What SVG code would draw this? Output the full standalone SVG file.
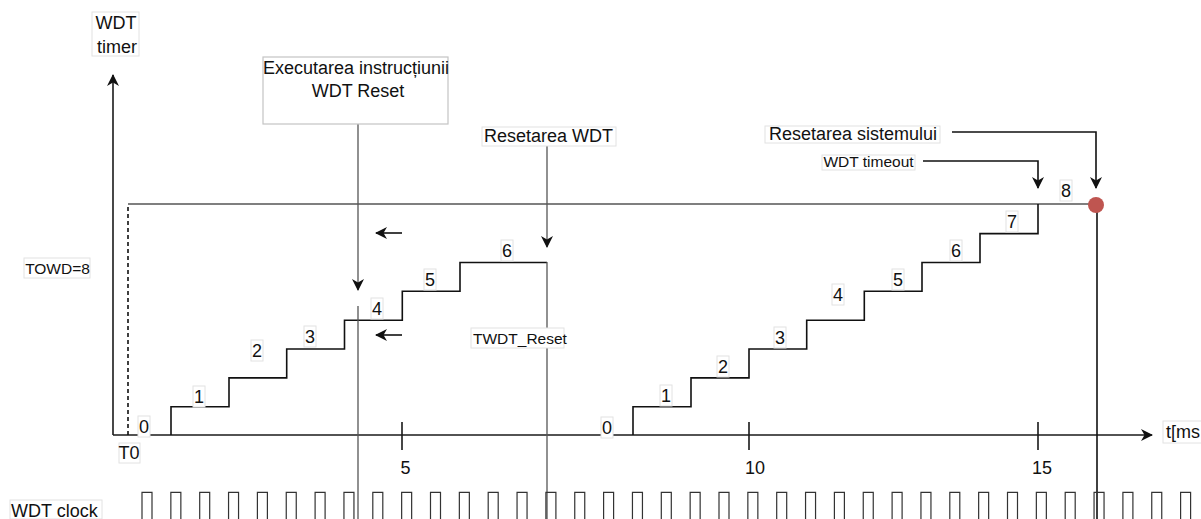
<svg xmlns="http://www.w3.org/2000/svg" width="1201" height="519" viewBox="0 0 1201 519">
<style>
text{font-family:"Liberation Sans",Arial,sans-serif;fill:#111;font-size:18px}
.sm{font-size:15.5px}
.mid{text-anchor:middle}
.lb{fill:#fff;stroke:#e2e2e2;stroke-width:1}
.box{fill:#fff;stroke:#c4c4c4;stroke-width:1.2}
.ax{fill:none;stroke:#1a1a1a;stroke-width:1.6}
.stair{fill:none;stroke:#111;stroke-width:1.6}
.gray{fill:none;stroke:#555;stroke-width:1.3}
.blk{fill:none;stroke:#111;stroke-width:1.6}
.clk{fill:none;stroke:#333;stroke-width:1.2}
</style>
<defs>
<marker id="ah" viewBox="0 0 12 12" markerWidth="12" markerHeight="12" refX="11" refY="6" orient="auto" markerUnits="userSpaceOnUse">
<path d="M0,0 L12,6 L0,12 L3.5,6 Z" fill="#111"/>
</marker>
</defs>
<rect width="1201" height="519" fill="#fff"/>

<g id="connectors">
<path class="ax" d="M113,435 V75" marker-end="url(#ah)"/>
<path class="ax" d="M113,435 H1152" marker-end="url(#ah)"/>
<path d="M128,435 V204" fill="none" stroke="#111" stroke-width="1.6" stroke-dasharray="4,3"/>
<path class="gray" d="M128,204 H1090"/>
<path class="stair" d="M171,435 V406.7 H229 V377.9 H286.7 V349 H344.5 V320.2 H402.3 V291.3 H460 V262.5 H547"/>
<path class="stair" d="M633,435 V406.7 H691 V377.9 H749 V349 H806.7 V320.2 H864.3 V291.3 H922 V262.5 H980 V233.6 H1038 V204"/>
<path class="ax" d="M402,422 V450 M749,422 V450 M1038,422 V450"/>
<path class="gray" d="M358,124 V290" marker-end="url(#ah)"/>
<path class="gray" d="M358,306 V519"/>
<path class="gray" d="M547,146 V247" marker-end="url(#ah)"/>
<path class="gray" d="M547,262 V519"/>
<path class="blk" d="M402,233 H376" marker-end="url(#ah)"/>
<path class="blk" d="M402,335 H376" marker-end="url(#ah)"/>
<path class="blk" d="M952,132 H1096 V188" marker-end="url(#ah)"/>
<path class="blk" d="M923,161 H1038 V188" marker-end="url(#ah)"/>
<path class="blk" d="M1097,205 V519"/>
</g>

<g id="clock">
<path class="clk" d="M142,520V492.3H152V520 M170.85,520V492.3H180.85V520 M199.7,520V492.3H209.7V520 M228.55,520V492.3H238.55V520 M257.4,520V492.3H267.4V520 M286.25,520V492.3H296.25V520 M315.1,520V492.3H325.1V520 M343.95,520V492.3H353.95V520 M372.8,520V492.3H382.8V520 M401.65,520V492.3H411.65V520 M430.5,520V492.3H440.5V520 M459.35,520V492.3H469.35V520 M488.2,520V492.3H498.2V520 M517.05,520V492.3H527.05V520 M545.9,520V492.3H555.9V520 M574.75,520V492.3H584.75V520 M603.6,520V492.3H613.6V520 M632.45,520V492.3H642.45V520 M661.3,520V492.3H671.3V520 M690.15,520V492.3H700.15V520 M719,520V492.3H729V520 M747.85,520V492.3H757.85V520 M776.7,520V492.3H786.7V520 M805.55,520V492.3H815.55V520 M834.4,520V492.3H844.4V520 M863.25,520V492.3H873.25V520 M892.1,520V492.3H902.1V520 M920.95,520V492.3H930.95V520 M949.8,520V492.3H959.8V520 M978.65,520V492.3H988.65V520 M1007.5,520V492.3H1017.5V520 M1036.35,520V492.3H1046.35V520 M1065.2,520V492.3H1075.2V520 M1094.05,520V492.3H1104.05V520 M1122.9,520V492.3H1132.9V520 M1151.75,520V492.3H1161.75V520 M1180.6,520V492.3H1190.6V520"/>
</g>

<g id="reset-dot"><circle cx="1096" cy="205" r="8" fill="#bf5550"/></g>

<g id="label-wdt-timer"><rect class="lb" x="92" y="12" width="47" height="44"/><text class="mid" x="116" y="29.3">WDT</text><text class="mid" x="117" y="53">timer</text></g>
<g id="label-executarea"><rect class="box" x="263" y="57" width="185" height="67"/><text class="mid" x="356" y="74">Executarea instrucțiunii</text><text class="mid" x="358" y="97">WDT Reset</text></g>
<g id="label-resetarea-wdt"><rect class="lb" x="482" y="127" width="134" height="19"/><text class="mid" x="548.5" y="142">Resetarea WDT</text></g>
<g id="label-resetarea-sistemului"><rect class="lb" x="765" y="126" width="175" height="17"/><text class="mid" x="853" y="140">Resetarea sistemului</text></g>
<g id="label-wdt-timeout"><rect class="lb" x="822" y="155" width="93" height="15"/><text class="sm mid" x="868.5" y="167">WDT timeout</text></g>
<g id="label-towd"><rect class="lb" x="24" y="258" width="66" height="20"/><text class="sm mid" x="57.5" y="274">TOWD=8</text></g>
<g id="label-twdt-reset"><rect class="lb" x="471" y="328" width="93" height="20"/><text class="sm" x="473" y="344">TWDT_Reset</text></g>
<g id="label-t0"><rect class="lb" x="119" y="443" width="21" height="20"/><text class="mid" x="129" y="459">T0</text></g>
<g id="label-tms"><rect class="lb" x="1163" y="421" width="40" height="22"/><text x="1166" y="438">t[ms</text></g>
<g id="label-wdt-clock"><rect class="lb" x="10" y="500" width="92" height="19"/><text x="11" y="516.5">WDT clock</text></g>

<g id="ticks-labels">
<text class="mid" x="405.5" y="474">5</text>
<text class="mid" x="755" y="474">10</text>
<text class="mid" x="1042" y="474">15</text>
</g>

<g id="left-steps">
<rect class="lb" x="138" y="416" width="12" height="21"/><text class="mid" x="144" y="433">0</text>
<rect class="lb" x="193" y="386" width="12" height="21"/><text class="mid" x="199" y="403">1</text>
<rect class="lb" x="251" y="340" width="12" height="21"/><text class="mid" x="257" y="356.7">2</text>
<rect class="lb" x="304" y="326" width="12" height="21"/><text class="mid" x="310" y="343">3</text>
<rect class="lb" x="371" y="298" width="12" height="21"/><text class="mid" x="377" y="315">4</text>
<rect class="lb" x="424" y="269" width="12" height="21"/><text class="mid" x="430" y="286">5</text>
<rect class="lb" x="501" y="240" width="12" height="21"/><text class="mid" x="507" y="257">6</text>
</g>

<g id="right-steps">
<rect class="lb" x="601" y="417" width="12" height="21"/><text class="mid" x="607" y="434">0</text>
<rect class="lb" x="660" y="385" width="12" height="21"/><text class="mid" x="666" y="401.7">1</text>
<rect class="lb" x="717" y="356" width="12" height="21"/><text class="mid" x="723" y="372.7">2</text>
<rect class="lb" x="774" y="327" width="12" height="21"/><text class="mid" x="780" y="344">3</text>
<rect class="lb" x="832" y="284" width="12" height="21"/><text class="mid" x="838" y="300.7">4</text>
<rect class="lb" x="892" y="269" width="12" height="21"/><text class="mid" x="898" y="286">5</text>
<rect class="lb" x="950" y="240" width="12" height="21"/><text class="mid" x="956" y="257">6</text>
<rect class="lb" x="1006" y="211" width="12" height="21"/><text class="mid" x="1012" y="228">7</text>
<rect class="lb" x="1060" y="180" width="12" height="21"/><text class="mid" x="1066" y="197">8</text>
</g>
</svg>
